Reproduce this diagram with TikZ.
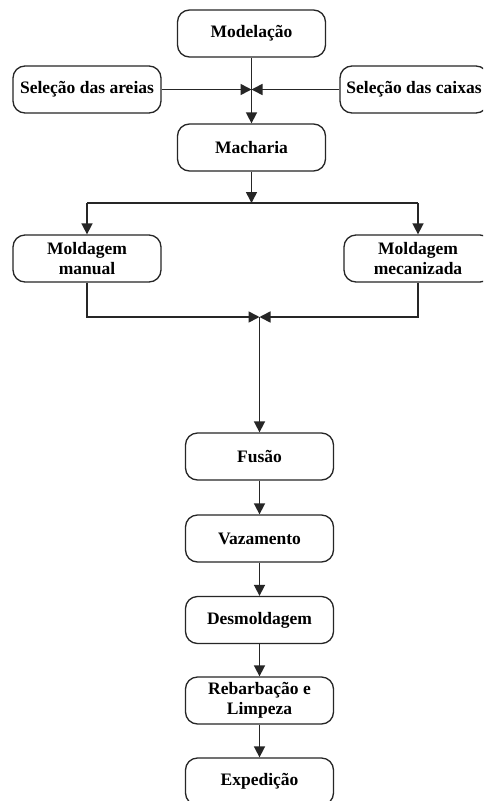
\documentclass[tikz,border=0pt]{standalone}
\usepackage{fontspec}
\setmainfont{Liberation Serif}
\usetikzlibrary{arrows.meta}
\begin{document}
\begin{tikzpicture}[x=1pt,y=-1pt,
  box/.style={draw=black!85, rounded corners=12pt, minimum width=148pt, minimum height=47pt,
    font=\fontsize{17.5}{20.5}\selectfont\bfseries, align=center, line width=1.3pt, inner sep=0pt},
  conn/.style={line width=1.6pt, draw=black!85},
  arr/.style={conn, -{Triangle[length=11pt,width=11pt]}}]
\useasboundingbox (0,0) rectangle (483,801);
\clip (0,0) rectangle (483,801);
\fill[white] (0,0) rectangle (483,801);
% nodes
\node[box] (mod) at (251.5,33.5) {Modelação};
\node[box] (are) at (87,89.5) {Seleção das areias};
\node[box] (cai) at (414,89.5) {Seleção das caixas};
\node[box] (mac) at (251.5,147.5) {Macharia};
\node[box] (man) at (87,258.5) {Moldagem\\manual};
\node[box] (mec) at (418,258.5) {Moldagem\\mecanizada};
\node[box] (fus) at (259.5,456.5) {Fusão};
\node[box] (vaz) at (259.5,538.5) {Vazamento};
\node[box] (des) at (259.5,620) {Desmoldagem};
\node[box] (reb) at (259.5,700.5) {Rebarbação e\\Limpeza};
\node[box] (exp) at (259.5,781.5) {Expedição};
% junctions
\coordinate (j1) at (251.5,89.5);
\coordinate (j2) at (251.5,203);
\coordinate (sl) at (87,203);
\coordinate (sr) at (418,203);
\coordinate (j3) at (259.5,317);
% connectors
\draw[arr] (are.east) -- (j1);
\draw[arr] (cai.west) -- (j1);
\draw[arr] (mod.south) -- (mac.north);
\draw[arr] (mac.south) -- (j2);
\draw[conn] (sl) -- (sr);
\draw[arr] (sl) -- (man.north);
\draw[arr] (sr) -- (mec.north);
\draw[arr] (man.south) |- (j3);
\draw[arr] (mec.south) |- (j3);
\draw[arr] (j3) -- (fus.north);
\draw[arr] (fus.south) -- (vaz.north);
\draw[arr] (vaz.south) -- (des.north);
\draw[arr] (des.south) -- (reb.north);
\draw[arr] (reb.south) -- (exp.north);
\end{tikzpicture}
\end{document}
